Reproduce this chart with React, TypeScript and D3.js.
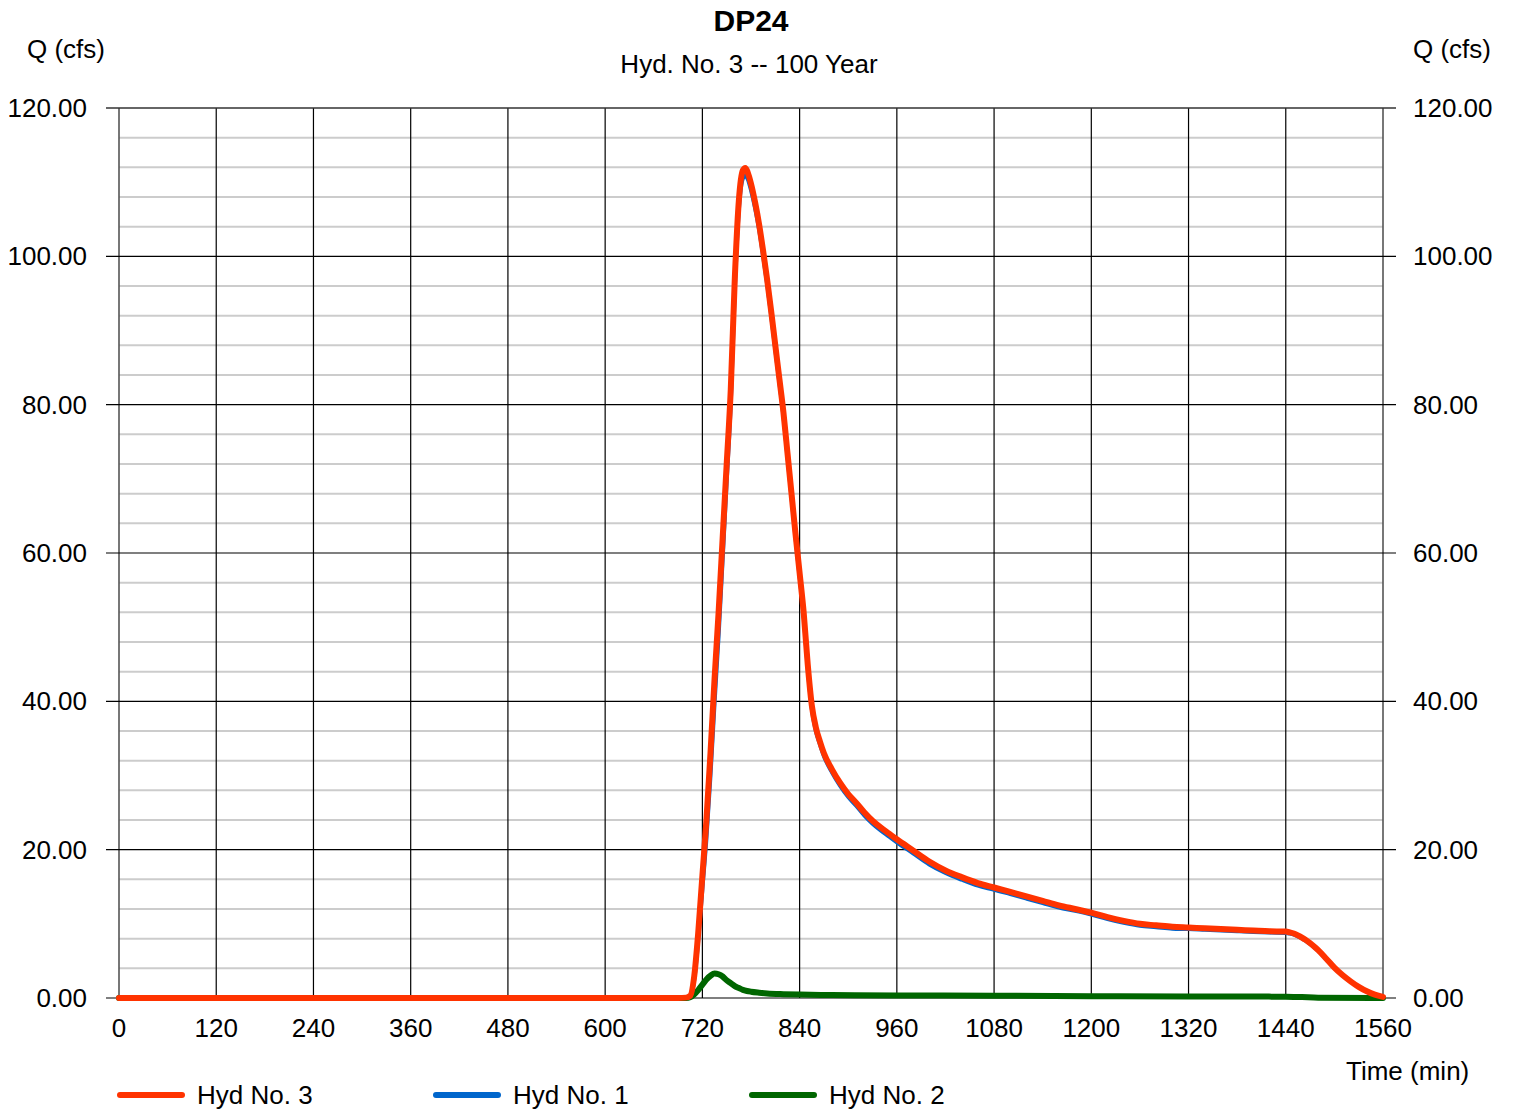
import React from "react";
import * as d3 from "d3";

const title = "DP24";
const subtitle = "Hyd. No. 3 -- 100 Year";
const yLabel = "Q (cfs)";
const xLabel = "Time (min)";

const xTicks = [0, 120, 240, 360, 480, 600, 720, 840, 960, 1080, 1200, 1320, 1440, 1560];
const yTicks = [0, 20, 40, 60, 80, 100, 120];
const yMinorTicks = d3.range(0, 121, 4);

const times = [0, 690, 700, 705, 710, 715, 720, 725, 730, 735, 740, 745, 750, 755, 760, 765, 770, 773, 776, 780, 785, 790, 795, 800, 805, 810, 815, 820, 825, 830, 835, 840, 845, 850, 855, 860, 865, 870, 880, 890, 900, 910, 920, 930, 940, 950, 960, 980, 1000, 1020, 1040, 1060, 1080, 1100, 1120, 1140, 1160, 1180, 1200, 1220, 1240, 1260, 1280, 1300, 1320, 1340, 1360, 1380, 1400, 1420, 1440, 1445, 1450, 1455, 1460, 1465, 1470, 1475, 1480, 1490, 1500, 1510, 1520, 1530, 1540, 1550, 1560];

const hyd3 = [0, 0, 0.05, 0.3, 3, 9, 16.5, 24, 33, 43, 52, 62, 72, 82, 97, 107.5, 111.6, 111.9, 111.3, 109.8, 107.3, 104.3, 100.7, 96.8, 92.5, 88, 83.5, 79, 73.5, 68, 62.5, 57.3, 52, 45, 39.5, 36.5, 34.6, 33, 30.8, 29, 27.5, 26.3, 25, 23.9, 23, 22.2, 21.4, 19.9, 18.4, 17.2, 16.3, 15.5, 14.9, 14.3, 13.7, 13.1, 12.5, 12.0, 11.5, 10.9, 10.4, 10.0, 9.8, 9.6, 9.5, 9.4, 9.3, 9.2, 9.1, 9.0, 8.95, 8.85, 8.7, 8.45, 8.15, 7.8, 7.4, 6.95, 6.45, 5.3, 4.1, 3.1, 2.25, 1.5, 0.9, 0.45, 0.15];

const hyd1 = [0, 0, 0, 0.2, 2.5, 7.9, 14.7, 21.5, 30, 39.7, 48.8, 59.1, 69.6, 80, 95.4, 106.2, 110.5, 110.9, 110.4, 108.9, 106.5, 103.6, 100, 96.2, 91.9, 87.4, 83, 78.5, 73, 67.5, 62, 56.8, 51.5, 44.5, 39, 36, 34.2, 32.6, 30.4, 28.6, 27.1, 25.9, 24.6, 23.5, 22.6, 21.8, 21.0, 19.5, 18.0, 16.85, 15.95, 15.15, 14.6, 14.0, 13.4, 12.8, 12.2, 11.75, 11.25, 10.65, 10.15, 9.75, 9.55, 9.35, 9.3, 9.2, 9.1, 9.0, 8.9, 8.82, 8.77, 8.68, 8.54, 8.3, 8.02, 7.68, 7.28, 6.84, 6.35, 5.21, 4.03, 3.05, 2.21, 1.48, 0.89, 0.45, 0.15];

const hyd2Times = [0, 695, 700, 705, 710, 715, 720, 725, 730, 735, 740, 745, 750, 755, 760, 765, 770, 775, 780, 790, 800, 820, 840, 880, 960, 1080, 1200, 1320, 1440, 1460, 1480, 1560];
const hyd2 = [0, 0, 0, 0.1, 0.5, 1.1, 1.8, 2.5, 3.0, 3.3, 3.2, 2.9, 2.4, 2.0, 1.6, 1.35, 1.1, 0.95, 0.85, 0.72, 0.62, 0.52, 0.46, 0.4, 0.35, 0.3, 0.25, 0.2, 0.18, 0.12, 0.05, 0];

const series = [
  { name: "Hyd No. 3", color: "#ff3300", width: 6 },
  { name: "Hyd No. 1", color: "#0066cc", width: 4 },
  { name: "Hyd No. 2", color: "#006600", width: 6 },
];

const FONT = "'Liberation Sans', Arial, sans-serif";

export default function App() {
  const W = 1513;
  const H = 1110;
  const x = d3.scaleLinear().domain([0, 1560]).range([119, 1383]);
  const y = d3.scaleLinear().domain([0, 120]).range([998, 108]);

  const line = d3
    .line<[number, number]>()
    .x((d) => x(d[0]))
    .y((d) => y(d[1]))
    .curve(d3.curveMonotoneX);

  const p3 = line(times.map((t, i) => [t, hyd3[i]]) as [number, number][]) || "";
  const p1 = line(times.map((t, i) => [t, hyd1[i]]) as [number, number][]) || "";
  const p2 = line(hyd2Times.map((t, i) => [t, hyd2[i]]) as [number, number][]) || "";

  const legendX = [118, 434, 750];

  return (
    <svg
      width={W}
      height={H}
      style={{ position: "absolute", left: 0, top: 0, background: "#fff" }}
      fontFamily={FONT}
    >
      <rect x={0} y={0} width={W} height={H} fill="#fff" />
      {yMinorTicks
        .filter((v) => v % 20 !== 0)
        .map((v) => (
          <line key={"mn" + v} x1={x(0)} x2={x(1560)} y1={y(v)} y2={y(v)} stroke="#cccccc" strokeWidth={2} />
        ))}
      {xTicks.map((t) => (
        <line
          key={"vx" + t}
          x1={x(t)}
          x2={x(t)}
          y1={y(120)}
          y2={y(0)}
          stroke={t === 0 || t === 1560 ? "#555" : "#000"}
          strokeWidth={t === 0 || t === 1560 ? 1.6 : 1.2}
        />
      ))}
      {yTicks.map((v) => (
        <line key={"hy" + v} x1={106} x2={1396} y1={y(v)} y2={y(v)} stroke={v === 120 ? "#333" : "#000"} strokeWidth={v === 120 ? 1.6 : 1.2} />
      ))}

      <path d={p2} fill="none" stroke={series[2].color} strokeWidth={series[2].width} strokeLinejoin="round" strokeLinecap="round" />
      <path d={p1} fill="none" stroke={series[1].color} strokeWidth={series[1].width} strokeLinejoin="round" strokeLinecap="round" />
      <path d={p3} fill="none" stroke={series[0].color} strokeWidth={series[0].width} strokeLinejoin="round" strokeLinecap="round" />

      {yTicks.map((v) => (
        <text key={"yl" + v} x={87} y={y(v) + 9} fontSize={26} textAnchor="end" fill="#000">
          {v.toFixed(2)}
        </text>
      ))}
      {yTicks.map((v) => (
        <text key={"yr" + v} x={1413} y={y(v) + 9} fontSize={26} textAnchor="start" fill="#000">
          {v.toFixed(2)}
        </text>
      ))}
      {xTicks.map((t) => (
        <text key={"xl" + t} x={x(t)} y={1037} fontSize={26} textAnchor="middle" fill="#000">
          {t}
        </text>
      ))}

      <text x={751} y={31} fontSize={30} fontWeight="bold" textAnchor="middle" fill="#000">
        {title}
      </text>
      <text x={749} y={73} fontSize={26} textAnchor="middle" fill="#000">
        {subtitle}
      </text>
      <text x={27} y={58} fontSize={26} fill="#000">
        {yLabel}
      </text>
      <text x={1413} y={58} fontSize={26} fill="#000">
        {yLabel}
      </text>
      <text x={1346} y={1080} fontSize={26} fill="#000">
        {xLabel}
      </text>

      {series.map((s, i) => (
        <g key={s.name}>
          <line x1={legendX[i] + 2} x2={legendX[i] + 64} y1={1095} y2={1095} stroke={s.color} strokeWidth={6} strokeLinecap="round" />
          <text x={legendX[i] + 79} y={1104} fontSize={26} fill="#000">
            {s.name}
          </text>
        </g>
      ))}
    </svg>
  );
}
